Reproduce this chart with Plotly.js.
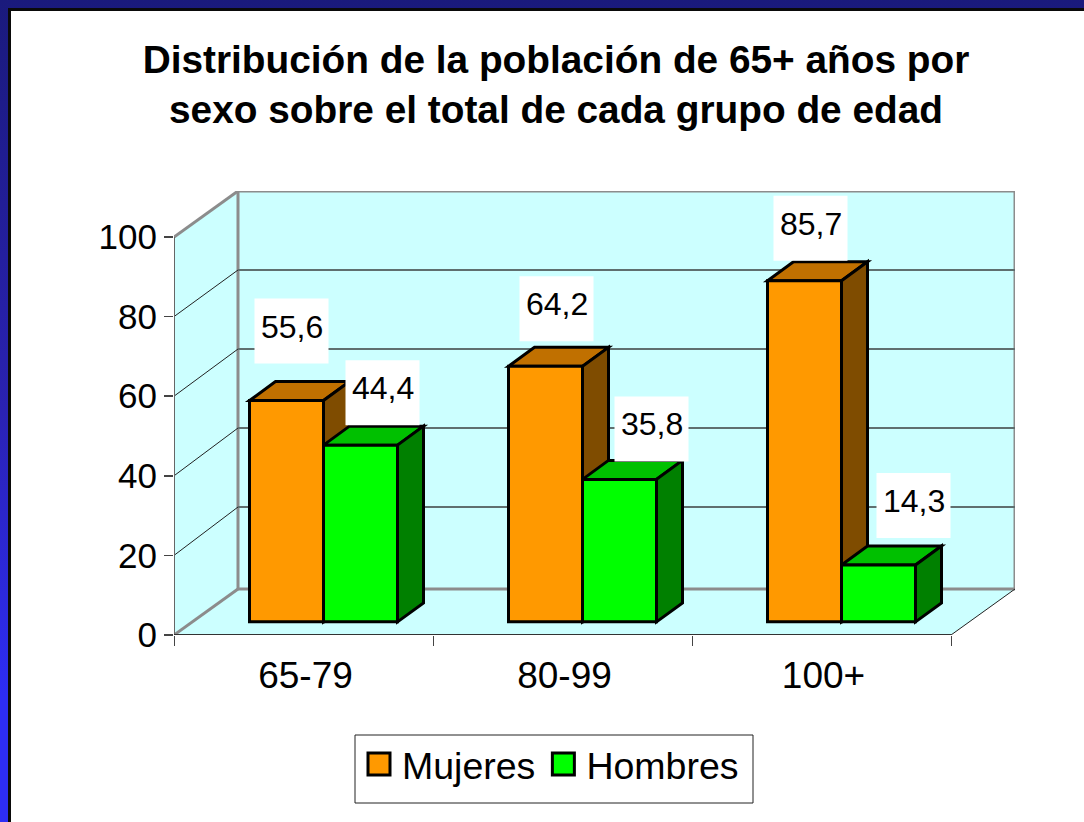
<!DOCTYPE html>
<html>
<head>
<meta charset="utf-8">
<script src="https://cdn.plot.ly/plotly-3.0.1.min.js"></script>
<style>
html,body{margin:0;padding:0;width:1084px;height:822px;overflow:hidden;background:linear-gradient(180deg,#1a1a7c 0%,#2a22b4 50%,#2d2df5 85%);}
#frame{position:absolute;left:8px;top:8px;width:1090px;height:830px;background:#fff;border:3px solid #0a0a0a;box-sizing:border-box;}
#chart{position:absolute;left:0;top:0;width:1084px;height:822px;}
</style>
</head>
<body>
<div id="frame"></div>
<div id="chart"></div>
<script>
var titleLines = ['Distribución de la población de 65+ años por', 'sexo sobre el total de cada grupo de edad'];
var categories = ['65-79', '80-99', '100+'];
var mujeres = [55.6, 64.2, 85.7];
var hombres = [44.4, 35.8, 14.3];
var yTicks = [0, 20, 40, 60, 80, 100];

var PX_X = 259, PX_Y = 3.98;
var L = 174, B = 635, WALL_PX_X = 64, WALL_PX_Y = 46;
var wallDx = WALL_PX_X / PX_X, wallDy = WALL_PX_Y / PX_Y;
var barW = 74 / PX_X, depthX = 26 / PX_X, depthY = 19 / PX_Y;
var frontDx = 20 / PX_X, floorY = 3.3;
var xMin = -0.5, xMax = 2.5;
var GRID_SCALE = 3.95 / PX_Y;

function dec(v) { return String(v).replace('.', ','); }
function poly(pts) {
  return 'M' + pts.map(function (p) { return p[0] + ',' + p[1]; }).join('L') + 'Z';
}
function shape(pts, fill, lineColor, lineWidth) {
  return { type: 'path', xref: 'x', yref: 'y', layer: 'below', path: poly(pts), fillcolor: fill,
           line: { color: lineColor, width: lineWidth } };
}
function seg(x0, y0, x1, y1, color, width, layer) {
  return { type: 'line', xref: 'x', yref: 'y', layer: layer || 'below', x0: x0, y0: y0, x1: x1, y1: y1,
           line: { color: color, width: width } };
}

var WALL = '#ccffff', GREY = '#8c8c8c', GRID = '#5f6f6f';
var shapes = [];
// floor, left wall, back wall
shapes.push(shape([[xMin, 0], [xMax, 0], [xMax + wallDx, wallDy], [xMin + wallDx, wallDy]], WALL, 'rgba(0,0,0,0)', 0));
shapes.push(shape([[xMin, 0], [xMin + wallDx, wallDy], [xMin + wallDx, 100 + wallDy], [xMin, 100]], WALL, 'rgba(0,0,0,0)', 0));
shapes.push(shape([[xMin + wallDx, wallDy], [xMax + wallDx, wallDy], [xMax + wallDx, 100 + wallDy], [xMin + wallDx, 100 + wallDy]], WALL, GREY, 3));
yTicks.slice(1, -1).forEach(function (t) {
  var gy = 100 + wallDy - (100 - t) * GRID_SCALE;
  shapes.push(seg(xMin + wallDx, gy, xMax + wallDx, gy, GRID, 2));
  shapes.push(seg(xMin, t, xMin + wallDx, gy, '#222222', 1));
});
shapes.push(seg(xMin, 0, xMin + wallDx, wallDy, GREY, 3));
shapes.push(seg(xMin, 100, xMin + wallDx, 100 + wallDy, GREY, 3));
shapes.push(seg(xMin, 0, xMin, 100, '#666666', 2));
shapes.push(seg(xMin, 0, xMax, 0, '#333333', 2));
shapes.push(seg(xMax, 0, xMax + wallDx, wallDy, '#222222', 1));

// tops and sides of the 3D columns, from the same values as the bars
function box(cx, left, v, topCol, sideCol) {
  var x0 = cx + left, x1 = x0 + barW, t = v + floorY;
  shapes.push(shape([[x0, t], [x1, t], [x1 + depthX, t + depthY], [x0 + depthX, t + depthY]], topCol, '#000', 3));
  shapes.push(shape([[x1, floorY], [x1 + depthX, floorY + depthY], [x1 + depthX, t + depthY], [x1, t]], sideCol, '#000', 3));
}
categories.forEach(function (c, i) {
  box(i, frontDx - barW, mujeres[i], '#c07000', '#7f4c00');
  box(i, frontDx, hombres[i], '#00c000', '#008000');
});

// legend frame
shapes.push({ type: 'rect', xref: 'paper', yref: 'paper', layer: 'below',
  x0: (355 - L) / 841, x1: (753 - L) / 841, y0: (635 - 735) / 444, y1: (635 - 803) / 444,
  fillcolor: '#fff', line: { color: '#222', width: 1 } });

// data labels: placed relative to the top of each column
var labelShiftM = [{ x: 5, y: 74 }, { x: 11, y: 62 }, { x: 6, y: 57 }];
var labelShiftH = [{ x: 22, y: 57 }, { x: 32, y: 55 }, { x: 35, y: 64 }];
var annotations = [];
function addLabel(xv, v, shift) {
  var yv = v + floorY;
  shapes.push({ type: 'rect', layer: 'above', xref: 'x', yref: 'y', xsizemode: 'pixel', ysizemode: 'pixel',
    xanchor: xv, yanchor: yv, x0: shift.x - 37, x1: shift.x + 37, y0: shift.y - 4.5 - 32.5, y1: shift.y - 4.5 + 32.5,
    fillcolor: '#fff', line: { width: 0 } });
  annotations.push({ xref: 'x', yref: 'y', x: xv, y: yv, text: dec(v), showarrow: false,
    xanchor: 'center', yanchor: 'middle', xshift: shift.x, yshift: shift.y,
    font: { family: 'Liberation Sans', size: 32, color: '#000' } });
}
categories.forEach(function (c, i) {
  addLabel(i + frontDx - barW / 2, mujeres[i], labelShiftM[i]);
  addLabel(i + frontDx + barW / 2, hombres[i], labelShiftH[i]);
});

var xPos = categories.map(function (c, i) { return i; });
var barLine = { color: '#000', width: 3 };
var data = [
  { type: 'bar', name: 'Mujeres', x: xPos, y: mujeres, base: floorY, width: barW, offset: frontDx - barW,
    marker: { color: '#ff9900', line: barLine }, hoverinfo: 'name+y' },
  { type: 'bar', name: 'Hombres', x: xPos, y: hombres, base: floorY, width: barW, offset: frontDx,
    marker: { color: '#00ff00', line: barLine }, hoverinfo: 'name+y' },
  // boundary tick marks of the category axis
  { type: 'scatter', x: [xMin], y: [0], xaxis: 'x2', mode: 'none', showlegend: false, hoverinfo: 'skip' }
];

var layout = {
  width: 1084, height: 822,
  paper_bgcolor: 'rgba(0,0,0,0)', plot_bgcolor: 'rgba(0,0,0,0)',
  margin: { l: L, r: 1084 - L - 841, t: 191, b: 822 - B, pad: 0 },
  barmode: 'overlay',
  showlegend: true,
  title: { text: titleLines.join('<br>'), x: 556 / 1084, xanchor: 'center', y: 1 - 73 / 822, yanchor: 'middle',
           font: { family: 'Liberation Sans', size: 38.8, color: '#000', weight: 'bold' } },
  font: { family: 'Liberation Sans', color: '#000' },
  xaxis: { type: 'linear', range: [xMin, xMin + 841 / PX_X], tickmode: 'array', tickvals: xPos, ticktext: categories,
           showgrid: false, zeroline: false, showline: false, ticks: 'outside', ticklen: 8, tickcolor: 'rgba(0,0,0,0)',
           ticklabelshift: 2, tickfont: { size: 37 } },
  xaxis2: { type: 'linear', overlaying: 'x', anchor: 'y', side: 'bottom', range: [xMin, xMin + 841 / PX_X],
            tickmode: 'array', tickvals: [-0.5, 0.5, 1.5, 2.5], showticklabels: false,
            showgrid: false, zeroline: false, showline: false, ticks: 'outside', ticklen: 10, tickwidth: 1, tickcolor: '#444' },
  yaxis: { range: [0, 444 / PX_Y], tickmode: 'array', tickvals: yTicks, showgrid: false, zeroline: false, showline: false,
           ticks: 'outside', ticklen: 9, tickwidth: 1.5, tickcolor: '#444', tickfont: { size: 35 } },
  legend: { orientation: 'h', xref: 'container', yref: 'container', x: 356 / 1084, xanchor: 'left',
            y: 1 - 733 / 822, yanchor: 'top', bgcolor: 'rgba(0,0,0,0)', borderwidth: 0,
            itemwidth: 36,
            font: { size: 37.5, color: '#000' } },
  bargap: 0,
  shapes: shapes,
  annotations: annotations
};

Plotly.newPlot('chart', data, layout, { displayModeBar: false, staticPlot: true }).then(function (gd) {
  gd.querySelectorAll('.legend .legendpoints path').forEach(function (p) {
    p.setAttribute('d', 'M11,11H-11V-11H11Z');
    p.style.strokeWidth = '3px';
  });
});
</script>
</body>
</html>
